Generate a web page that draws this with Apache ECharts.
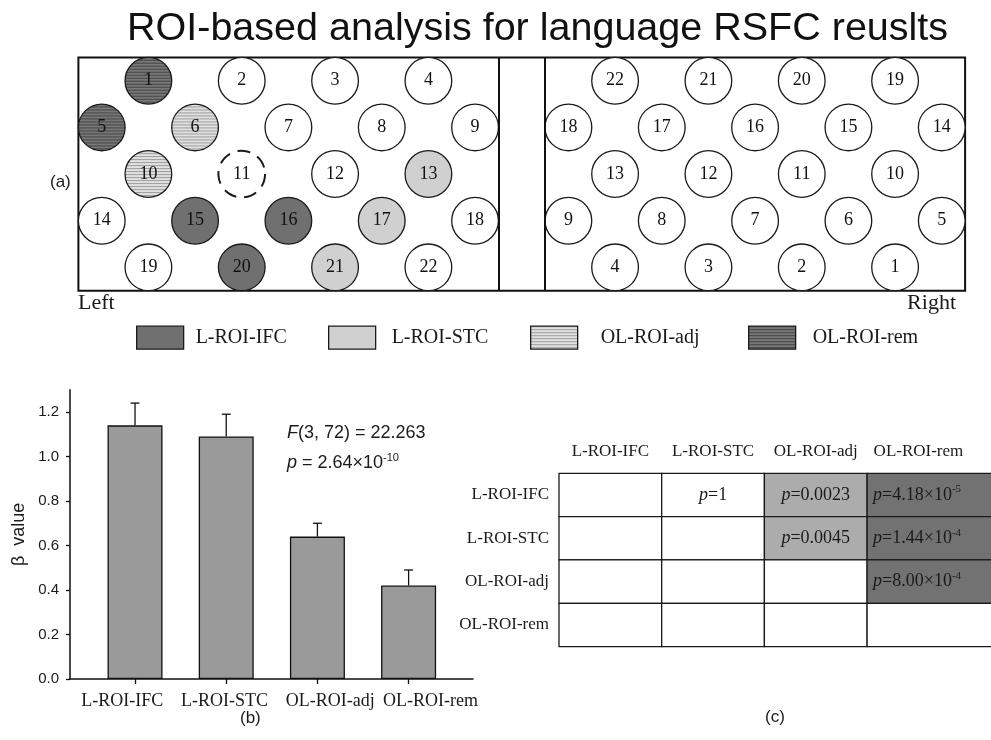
<!DOCTYPE html>
<html>
<head>
<meta charset="utf-8">
<script src="https://cdn.jsdelivr.net/npm/echarts@6/dist/echarts.min.js"></script>
<style>
  html, body { margin: 0; padding: 0; background: #fff; }
  #chart { width: 991px; height: 740px; }
</style>
</head>
<body>
<div id="chart"></div>
<script>
// ---- data ----
// 22-electrode montage, listed row by row (left hemisphere view)
const roiRows = [[1, 2, 3, 4], [5, 6, 7, 8, 9], [10, 11, 12, 13], [14, 15, 16, 17, 18], [19, 20, 21, 22]];
const roiIFC = [15, 16, 20];
const roiSTC = [13, 17, 21];
const roiAdj = [6, 10];
const roiRem = [1, 5];
const roiExcluded = [11];

const groupNames = ['L-ROI-IFC', 'L-ROI-STC', 'OL-ROI-adj', 'OL-ROI-rem'];
const betaMean = [1.14, 1.09, 0.64, 0.42];
const betaSE = [0.10, 0.10, 0.06, 0.07];
const betaTicks = [0, 0.2, 0.4, 0.6, 0.8, 1.0, 1.2];

// pairwise comparisons (row vs column)
const pValue = [
  [null, '1', '0.0023', '4.18'],
  [null, null, '0.0045', '1.44'],
  [null, null, null, '8.00'],
  [null, null, null, null]
];
const pExponent = [
  [null, null, null, '-5'],
  [null, null, null, '-4'],
  [null, null, null, '-4'],
  [null, null, null, null]
];
const pShade = [
  [0, 0, 1, 2],
  [0, 0, 1, 2],
  [0, 0, 0, 2],
  [0, 0, 0, 0]
];

// ---- helpers ----
const SERIF = 'Liberation Serif';
const SANS = 'Liberation Sans';
const CIRCLE = 46.7;               // electrode symbol diameter (px)

// horizontal hatching; `scale` compensates for the symbol's own scaling
function stripes(base, line, scale) {
  const c = document.createElement('canvas');
  c.width = 4; c.height = 3;
  const g = c.getContext('2d');
  g.fillStyle = base; g.fillRect(0, 0, 4, 3);
  g.fillStyle = line; g.fillRect(0, 0, 4, 1);
  return { image: c, repeat: 'repeat', scaleX: scale, scaleY: scale };
}

// grid position of each electrode: left hemisphere and mirrored right hemisphere
const leftPos = {}, rightPos = {};
roiRows.forEach((row, r) => {
  row.forEach((id, i) => {
    const col = row.length === 4 ? 1 + 2 * i : 2 * i;
    leftPos[id] = [col, r];
    rightPos[id] = [18 - col, 4 - r];
  });
});
const allIds = roiRows.flat();
const grouped = [].concat(roiIFC, roiSTC, roiAdj, roiRem, roiExcluded);
const pt = (pos, id) => ({ value: [pos[id][0], pos[id][1]], name: String(id) });

const makeCircleLabel = () => ({
  show: true, position: 'inside', formatter: p => p.name,
  fontFamily: SERIF, fontSize: 18, color: '#111', textBorderWidth: 0, opacity: 1
});
const border = { borderColor: '#1a1a1a', borderWidth: 1.3 };

function groupSeries(name, ids, fill) {
  return {
    type: 'scatter', name, xAxisIndex: 0, yAxisIndex: 0,
    symbol: 'circle', symbolSize: CIRCLE,
    data: ids.map(id => pt(leftPos, id)),
    itemStyle: Object.assign({ color: fill, opacity: 1 }, border),
    label: makeCircleLabel(), silent: true, z: 3
  };
}

const symScale = 2 / CIRCLE;
const groupFills = ['#707070', '#d0d0d0', stripes('#e0e0e0', '#9e9e9e', symScale), stripes('#777777', '#464646', symScale)];
const legendFills = ['#707070', '#d0d0d0', stripes('#e0e0e0', '#9e9e9e', 1), stripes('#777777', '#464646', 1)];

const otherData = allIds.filter(id => !grouped.includes(id)).map(id => pt(leftPos, id))
  .concat(allIds.map(id => pt(rightPos, id)));

const tableCells = [];
for (let r = 0; r < 4; r++) for (let c = 0; c < 4; c++) tableCells.push([c, r]);
const shadeColors = ['#ffffff', '#acacac', '#727272'];

const chart = echarts.init(document.getElementById('chart'), null, { renderer: 'canvas' });

// legend layout
const legendGaps = [7, 11, 18, 12];
const legendLeft = [136, 328, 530, 748];
// x-axis category labels sit slightly spread out from the bar centres
const barLabelAt = [-0.14, 0.98, 2.14, 3.24];

const option = {
  backgroundColor: '#ffffff',
  animation: false,
  title: {
    text: 'ROI-based analysis for language RSFC reuslts',
    left: 127, top: 9, padding: 0,
    textStyle: { fontFamily: SANS, fontWeight: 'normal', fontSize: 39.5, color: '#111' }
  },
  legend: groupNames.map((n, i) => ({
    data: [{ name: n, itemStyle: { color: legendFills[i], borderColor: '#1a1a1a', borderWidth: 1.3 } }],
    left: legendLeft[i], top: 325.5, padding: 0,
    itemWidth: 47, itemHeight: 23, icon: 'rect', selectedMode: false,
    textStyle: { fontFamily: SERIF, fontSize: 20, color: '#1a1a1a', padding: [0, 0, 0, legendGaps[i]] }
  })),
  grid: [
    { left: 78.4, top: 57.4, width: 886.7, height: 233.3, show: true, borderColor: '#111', borderWidth: 2, backgroundColor: 'transparent' },
    { left: 70, top: 389.75, width: 403, height: 289.25 },
    { left: 559, top: 473.3, width: 410.8, height: 173.3 }
  ],
  xAxis: [
    { gridIndex: 0, type: 'value', min: -0.5, max: 18.5, show: false },
    {
      gridIndex: 1, type: 'value', min: -0.713, max: 3.706, position: 'bottom',
      axisLine: { show: true, onZero: false, lineStyle: { color: '#111', width: 1.5 } },
      axisTick: { show: true, length: 5, customValues: [0, 1, 2, 3], lineStyle: { color: '#111', width: 1.3 } },
      axisLabel: {
        customValues: barLabelAt, formatter: v => groupNames[Math.round(v)],
        hideOverlap: false, showMinLabel: true, showMaxLabel: true,
        fontFamily: SERIF, fontSize: 18, color: '#1a1a1a', margin: 13
      },
      splitLine: { show: false }
    },
    {
      gridIndex: 2, type: 'category', data: groupNames, position: 'top',
      axisLine: { show: false }, axisTick: { show: false },
      axisLabel: { interval: 0, hideOverlap: false, fontFamily: SERIF, fontSize: 17, color: '#1a1a1a', margin: 13 },
      splitLine: { show: false }
    }
  ],
  yAxis: [
    { gridIndex: 0, type: 'value', min: -0.5, max: 4.5, inverse: true, show: false },
    {
      gridIndex: 1, type: 'value', min: 0, max: 1.3,
      name: 'β  value', nameLocation: 'middle', nameGap: 42,
      nameTextStyle: { fontFamily: SANS, fontSize: 18, color: '#1a1a1a' },
      axisLine: { show: true, onZero: false, lineStyle: { color: '#111', width: 1.5 } },
      axisTick: { show: true, length: 4, customValues: betaTicks, lineStyle: { color: '#111', width: 1.3 } },
      axisLabel: {
        customValues: betaTicks, formatter: v => v.toFixed(1),
        fontFamily: SANS, fontSize: 15, color: '#1a1a1a', margin: 11
      },
      splitLine: { show: false }
    },
    {
      gridIndex: 2, type: 'category', data: groupNames, inverse: true,
      axisLine: { show: false }, axisTick: { show: false },
      axisLabel: { interval: 0, hideOverlap: false, fontFamily: SERIF, fontSize: 17, color: '#1a1a1a', margin: 10 },
      splitLine: { show: false }
    }
  ],
  graphic: [
    { type: 'text', left: 50, top: 174, style: { text: '(a)', fontFamily: SANS, fontSize: 17, fill: '#1a1a1a' } },
    { type: 'text', left: 78, top: 292, style: { text: 'Left', fontFamily: SERIF, fontSize: 22, fill: '#1a1a1a' } },
    { type: 'text', right: 35, top: 292, style: { text: 'Right', fontFamily: SERIF, fontSize: 22, fill: '#1a1a1a' } },
    {
      type: 'text', left: 287, top: 424,
      style: {
        text: '{i|F}(3, 72) = 22.263',
        fontFamily: SANS, fontSize: 18, fill: '#1a1a1a',
        rich: { i: { fontStyle: 'italic', fontFamily: SANS, fontSize: 18, fill: '#1a1a1a' } }
      }
    },
    {
      type: 'text', left: 287, top: 452,
      style: {
        text: '{i|p} = 2.64×10{s|-10}',
        fontFamily: SANS, fontSize: 18, fill: '#1a1a1a',
        rich: {
          i: { fontStyle: 'italic', fontFamily: SANS, fontSize: 18, fill: '#1a1a1a' },
          s: { fontFamily: SANS, fontSize: 11, fill: '#1a1a1a', padding: [0, 0, 11, 0] }
        }
      }
    },
    { type: 'text', left: 240, top: 710, style: { text: '(b)', fontFamily: SANS, fontSize: 17, fill: '#1a1a1a' } },
    { type: 'text', left: 765, top: 709, style: { text: '(c)', fontFamily: SANS, fontSize: 17, fill: '#1a1a1a' } }
  ],
  series: [
    groupSeries(groupNames[0], roiIFC, groupFills[0]),
    groupSeries(groupNames[1], roiSTC, groupFills[1]),
    groupSeries(groupNames[2], roiAdj, groupFills[2]),
    groupSeries(groupNames[3], roiRem, groupFills[3]),
    {
      type: 'scatter', name: 'unmarked', xAxisIndex: 0, yAxisIndex: 0,
      symbol: 'circle', symbolSize: CIRCLE, data: otherData,
      itemStyle: Object.assign({ color: '#ffffff', opacity: 1 }, border),
      label: makeCircleLabel(), silent: true, z: 3,
      markLine: {
        silent: true, symbol: 'none', label: { show: false },
        lineStyle: { color: '#111', width: 2, type: 'solid' },
        data: [{ xAxis: 8.5 }, { xAxis: 9.5 }]
      }
    },
    {
      type: 'scatter', name: 'excluded', xAxisIndex: 0, yAxisIndex: 0,
      symbol: 'circle', symbolSize: CIRCLE,
      data: roiExcluded.map(id => pt(leftPos, id)),
      itemStyle: { color: '#ffffff', opacity: 1, borderColor: '#1a1a1a', borderWidth: 2, borderType: [13, 8] },
      label: makeCircleLabel(), silent: true, z: 3
    },
    {
      type: 'bar', name: 'beta', xAxisIndex: 1, yAxisIndex: 1,
      data: betaMean.map((v, i) => [i, v]),
      barWidth: 55,
      itemStyle: { color: '#9a9a9a', borderColor: '#111', borderWidth: 1.3 },
      silent: true, z: 2
    },
    {
      type: 'custom', name: 'se', xAxisIndex: 1, yAxisIndex: 1,
      data: betaMean.map((v, i) => [i, v, betaSE[i]]),
      encode: { x: 0, y: 1 },
      silent: true, z: 3,
      renderItem: (params, api) => {
        const x = api.value(0), m = api.value(1), e = api.value(2);
        const p0 = api.coord([x, m]);
        const p1 = api.coord([x, m + e]);
        const st = { stroke: '#111', lineWidth: 1.3 };
        return {
          type: 'group',
          children: [
            { type: 'line', shape: { x1: p0[0], y1: p0[1], x2: p1[0], y2: p1[1] }, style: st },
            { type: 'line', shape: { x1: p1[0] - 4.5, y1: p1[1], x2: p1[0] + 4.5, y2: p1[1] }, style: st }
          ]
        };
      }
    },
    {
      type: 'custom', name: 'pairwise', xAxisIndex: 2, yAxisIndex: 2,
      data: tableCells, encode: { x: 0, y: 1 },
      silent: true, z: 2,
      renderItem: (params, api) => {
        const c = api.value(0), r = api.value(1);
        const ctr = api.coord([c, r]);
        const sz = api.size([1, 1]);
        const x0 = ctr[0] - sz[0] / 2, y0 = ctr[1] - sz[1] / 2;
        const w = c === 3 ? api.getWidth() - x0 + 10 : sz[0];
        const children = [{
          type: 'rect', shape: { x: x0, y: y0, width: w, height: sz[1] },
          style: { fill: shadeColors[pShade[r][c]], stroke: '#1a1a1a', lineWidth: 1.3 }
        }];
        const val = pValue[r][c];
        if (val !== null) {
          const ex = pExponent[r][c];
          const txt = '{i|p}{n|=' + val + (ex ? '×10' : '') + '}' + (ex ? '{s|' + ex + '}' : '');
          children.push({
            type: 'text',
            x: c === 3 ? x0 + 6 : ctr[0], y: ctr[1],
            style: {
              text: txt,
              align: c === 3 ? 'left' : 'center', verticalAlign: 'middle',
              rich: {
                i: { fontFamily: SERIF, fontStyle: 'italic', fontSize: 18, fill: '#1a1a1a' },
                n: { fontFamily: SERIF, fontSize: 18, fill: '#1a1a1a' },
                s: { fontFamily: SERIF, fontSize: 11, fill: '#1a1a1a', padding: [0, 0, 11, 0] }
              }
            }
          });
        }
        return { type: 'group', children };
      }
    }
  ]
};

chart.setOption(option);
</script>
</body>
</html>
